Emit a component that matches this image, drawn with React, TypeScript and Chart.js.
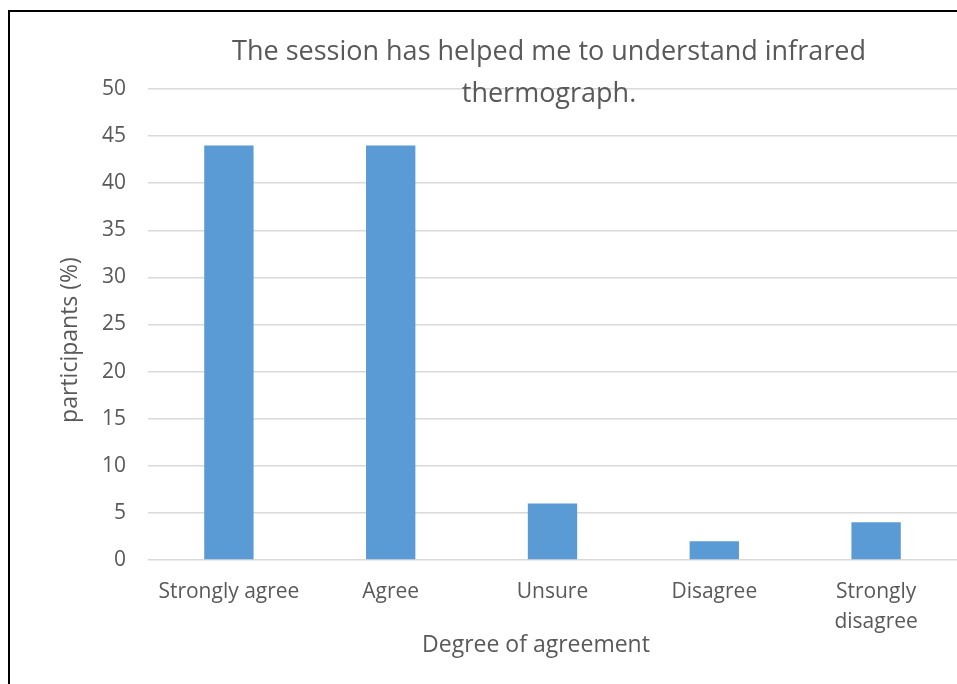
import React, { useEffect, useRef } from "react";
import { Chart, registerables } from "chart.js";

Chart.register(...registerables);

const categories: (string | string[])[] = ["Strongly agree", "Agree", "Unsure", "Disagree", ["Strongly", "disagree"]];
const participants: number[] = [44, 44, 6, 2, 4];
const titleLines: string[] = ["The session has helped me to understand infrared", "thermograph."];
const yAxisTitle = "participants (%)";
const xAxisTitle = "Degree of agreement";

const FONT = "'Open Sans', 'Noto Sans', sans-serif";
const TEXT = "#595959";

const titlePlugin = {
  id: "overlayTitles",
  afterDraw(chart: any) {
    const ctx = chart.ctx;
    ctx.save();
    ctx.fillStyle = TEXT;
    ctx.textAlign = "center";
    ctx.textBaseline = "middle";
    ctx.font = `27px ${FONT}`;
    ctx.fillText(titleLines[0], 539, 40);
    ctx.fillText(titleLines[1], 539, 82);
    ctx.font = `23px ${FONT}`;
    ctx.fillText(xAxisTitle, 526, 633);
    ctx.translate(60, 328);
    ctx.rotate(-Math.PI / 2);
    ctx.fillText(yAxisTitle, 0, 0);
    ctx.restore();
  },
};

export default function App() {
  const ref = useRef<HTMLCanvasElement | null>(null);
  useEffect(() => {
    if (!ref.current) return;
    const chart = new Chart(ref.current, {
      type: "bar",
      data: {
        labels: categories as any,
        datasets: [
          {
            data: participants,
            backgroundColor: "#5B9BD5",
            borderWidth: 0,
            barPercentage: 0.305,
            categoryPercentage: 1,
          },
        ],
      },
      options: {
        animation: false,
        responsive: true,
        maintainAspectRatio: false,
        layout: { padding: { top: 77, right: 0, left: 0, bottom: 0 } },
        plugins: { legend: { display: false }, tooltip: { enabled: false }, title: { display: false } },
        scales: {
          x: {
            grid: { display: false, drawTicks: false },
            border: { display: false },
            ticks: {
              color: TEXT,
              font: { family: FONT, size: 21, lineHeight: 1.43 },
              padding: 17,
              maxRotation: 0,
              autoSkip: false,
            },
            afterFit(scale: any) {
              scale.height = 124;
            },
          },
          y: {
            min: 0,
            max: 50,
            ticks: {
              stepSize: 5,
              color: TEXT,
              font: { family: FONT, size: 21 },
              padding: 22,
            },
            grid: { color: "#d9d9d9", lineWidth: 1.5, drawTicks: false },
            border: { display: false },
            afterFit(scale: any) {
              scale.width = 138;
            },
          },
        },
      },
      plugins: [titlePlugin],
    });
    return () => chart.destroy();
  }, []);

  return (
    <div
      style={{
        position: "fixed",
        left: 8,
        top: 10,
        width: 949,
        height: 674,
        borderLeft: "2px solid #000",
        borderTop: "2px solid #000",
        background: "#fff",
      }}
    >
      <div style={{ position: "relative", width: 947, height: 672 }}>
        <canvas ref={ref} />
      </div>
    </div>
  );
}
